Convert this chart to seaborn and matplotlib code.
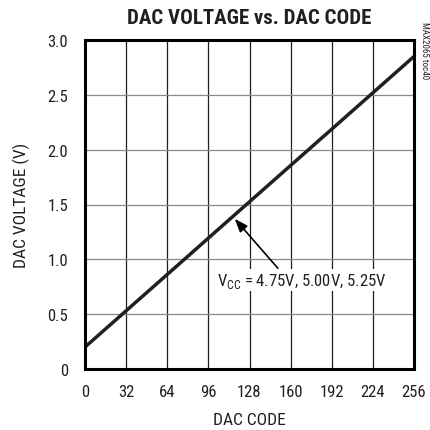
import matplotlib
matplotlib.use("Agg")
import matplotlib.pyplot as plt
import seaborn as sns
import pandas as pd

# data
dac_code = [0, 64, 128, 192, 256]
dac_voltage = [0.2, 0.862, 1.525, 2.187, 2.85]
x_ticks = [0, 32, 64, 96, 128, 160, 192, 224, 256]
y_ticks = [0, 0.5, 1.0, 1.5, 2.0, 2.5, 3.0]
y_labels = ["0", "0.5", "1.0", "1.5", "2.0", "2.5", "3.0"]

sns.set_style("white")
plt.rcParams["font.family"] = ["Roboto Condensed", "DejaVu Sans"]

df = pd.DataFrame({"code": dac_code, "volt": dac_voltage})

fig = plt.figure(figsize=(4.30, 4.31), dpi=100)
ax = fig.add_axes([85 / 430, 1 - 370 / 431, 329 / 430, 329 / 431])

sns.lineplot(data=df, x="code", y="volt", color="#231f20", linewidth=2.5, ax=ax)

ax.set_xlim(0, 256)
ax.set_ylim(0, 3.0)
ax.set_xticks(x_ticks)
ax.set_yticks(y_ticks)
ax.set_yticklabels(y_labels)
for xv in x_ticks[1:-1]:
    ax.axvline(xv, color="#231f20", linewidth=0.9, zorder=0)
for yv in y_ticks[1:-1]:
    ax.axhline(yv, color="#8a8a8a", linewidth=0.9, zorder=0)

for s in ax.spines.values():
    s.set_visible(True)
    s.set_color("black")
    s.set_linewidth(2.2)

ax.tick_params(axis="x", length=0, labelsize=12, pad=11, colors="#231f20")
ax.tick_params(axis="y", length=0, labelsize=12, pad=12, colors="#231f20")
ax.set_xlabel("DAC CODE", fontsize=12.5, color="#231f20", labelpad=9)
ax.set_ylabel("DAC VOLTAGE (V)", fontsize=12.5, color="#231f20", labelpad=13)
ax.set_title("DAC VOLTAGE vs. DAC CODE", fontsize=15, fontweight="bold",
             color="#231f20", pad=12)

ax.annotate("", xy=(116.5, 1.37), xytext=(150, 0.92),
            arrowprops=dict(arrowstyle="-|>,head_length=0.8,head_width=0.3",
                            color="black", lw=1.2, shrinkA=0, shrinkB=0))
ax.text(103, 0.81, r"V$_{\mathregular{CC}}$ = 4.75V, 5.00V, 5.25V", fontsize=12,
        color="#231f20", va="center", ha="left",
        bbox=dict(facecolor="white", edgecolor="none", pad=1))

fig.text(420 / 430, 1 - 22 / 431, "MAX2065 toc40", rotation=270, fontsize=6.5,
         ha="left", va="top", color="#231f20")

fig.savefig("out.png", dpi=100)
